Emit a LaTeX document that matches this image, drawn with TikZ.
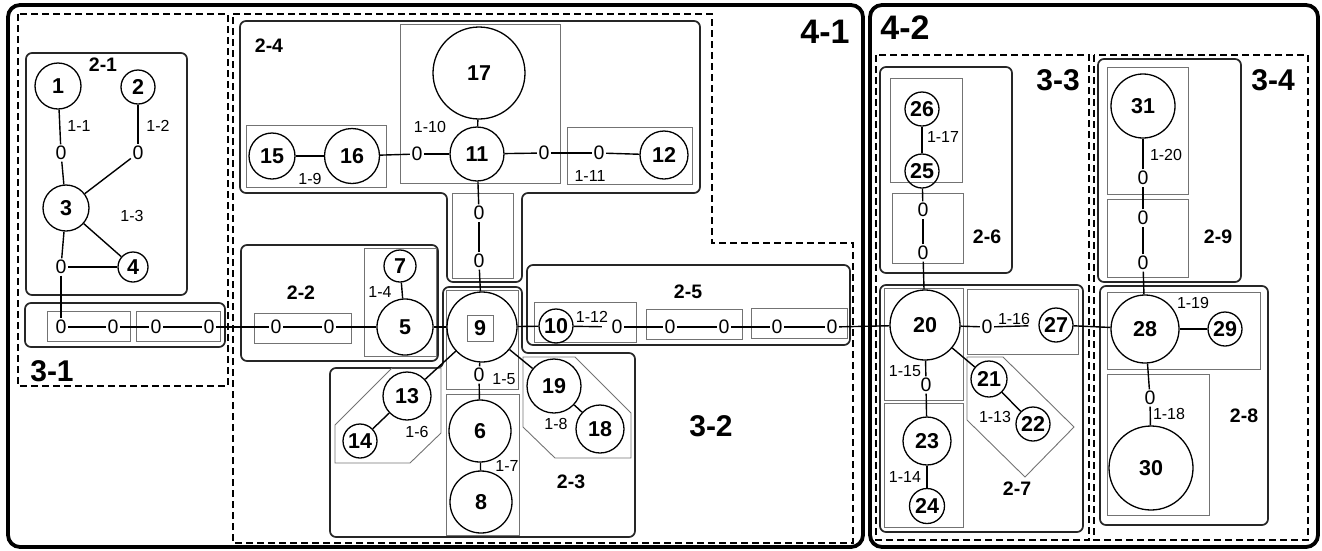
\documentclass[tikz,border=0pt]{standalone}
\usepackage{fontspec}
\setmainfont{Liberation Sans}
\usetikzlibrary{positioning}
\newcommand{\numfont}{\fontsize{21.5}{24}\selectfont\bfseries}
\newcommand{\zerofont}{\fontsize{19.5}{22}\selectfont}
\newcommand{\edgefont}{\fontsize{16}{18}\selectfont}
\newcommand{\grpfont}{\fontsize{19.5}{22}\selectfont\bfseries}
\newcommand{\lvlfont}{\fontsize{30}{34}\selectfont\bfseries}
\newcommand{\partfont}{\fontsize{34}{38}\selectfont\bfseries}
\begin{document}
\begin{tikzpicture}[x=1pt,y=-1pt,
    vtx/.style={circle,draw,line width=1.3pt,inner sep=0pt,minimum size=#1,font=\numfont},
    zero/.style={inner sep=1.5pt,font=\zerofont},
    lbl/.style={inner sep=0pt,font=\edgefont},
    grp/.style={inner sep=0pt,font=\grpfont},
    lvl/.style={inner sep=0pt,font=\lvlfont},
    prt/.style={inner sep=0pt,font=\partfont},
    cell/.style={draw=black!55,line width=0.9pt},
    group/.style={draw=black!85,line width=1.7pt,rounded corners=6pt},
    level/.style={draw,line width=1.4pt,dash pattern=on 7pt off 4pt},
    part/.style={draw,line width=3.8pt,rounded corners=12pt},
    link/.style={line width=1.4pt}]
    \useasboundingbox (0,0) rectangle (1322,550);
    % parts and levels
    \draw[part] (8,5) rectangle (863,547);
    \draw[part] (870,5) rectangle (1318,547);
    \draw[level] (18,14) rectangle (228,386);
    \draw[level] (233,14) -- (712,14) -- (712,243) -- (853,243) -- (853,543) -- (233,543) -- cycle;
    \draw[level] (876,55) rectangle (1089,540);
    \draw[level] (1094,55) rectangle (1308,540);
    % groups
    \draw[group] (26,53) rectangle (187,295);
    \draw[group] (25,303) rectangle (225,347);
    \draw[group] (240,21) -- (700,21) -- (700,193) -- (522,193) -- (522,282) -- (447,282) -- (447,193) -- (240,193) -- cycle;
    \draw[group] (241,245) rectangle (438,361);
    \draw[group] (330,368) -- (443,368) -- (443,287) -- (522,287) -- (522,353) -- (635,353) -- (635,537) -- (330,537) -- cycle;
    \draw[group] (527,265) rectangle (850,345);
    \draw[group] (880,67) rectangle (1012,273);
    \draw[group] (880,285) rectangle (1083,532);
    \draw[group] (1100,286) rectangle (1268,525);
    \draw[group] (1098,59) rectangle (1241,282);
    % cells
    \draw[cell] (47,311) rectangle (130,341);
    \draw[cell] (136,311) rectangle (220,341);
    \draw[cell] (254,313) rectangle (351,343);
    \draw[cell] (364,248) rectangle (436,356);
    \draw[cell] (246,125) rectangle (386,187);
    \draw[cell] (400,24) rectangle (560,183);
    \draw[cell] (567,127) rectangle (692,184);
    \draw[cell] (452,193) rectangle (513,278);
    \draw[cell] (446,290) rectangle (518,389);
    \draw[cell] (446,394) rectangle (519,535);
    \draw[cell] (335,425) -- (392,368) -- (441,368) -- (441,433) -- (410,463) -- (335,463) -- cycle;
    \draw[cell] (523,357) -- (575,357) -- (631,413) -- (631,458) -- (555,458) -- (523,427) -- cycle;
    \draw[cell] (534,302) rectangle (636,342);
    \draw[cell] (646,309) rectangle (742,339);
    \draw[cell] (751,308) rectangle (847,338);
    \draw[cell] (890,78) rectangle (962,182);
    \draw[cell] (892,193) rectangle (963,263);
    \draw[cell] (884,288) rectangle (963,400);
    \draw[cell] (884,403) rectangle (963,527);
    \draw[cell] (967,289) rectangle (1078,354);
    \draw[cell] (967,357) -- (1003,357) -- (1074,427) -- (1025,477) -- (967,420) -- cycle;
    \draw[cell] (1107,292) rectangle (1260,369);
    \draw[cell] (1107,374) rectangle (1209,515);
    \draw[cell] (1107,67) rectangle (1188,194);
    \draw[cell] (1107,199) rectangle (1188,277);
    % vertices
    \node[vtx=46pt] (n1) at (58,86) {1};
    \node[vtx=34pt] (n2) at (138,87) {2};
    \node[vtx=46pt] (n3) at (66,208) {3};
    \node[vtx=30pt] (n4) at (133,267) {4};
    \node[vtx=56pt] (n5) at (405,327) {5};
    \node[vtx=32pt] (n7) at (400,266) {7};
    \node[vtx=70pt] (n9) at (482,327) {};
    \node[cell,minimum size=26pt,inner sep=0pt,font=\numfont] (n9in) at (480,328) {9};
    \node[vtx=62pt] (n6) at (480,431) {6};
    \node[vtx=62pt] (n8) at (481,502) {8};
    \node[vtx=34pt] (n10) at (556,326) {10};
    \node[vtx=54pt] (n11) at (477,154) {11};
    \node[vtx=48pt] (n12) at (664,155) {12};
    \node[vtx=48pt] (n13) at (407,396) {13};
    \node[vtx=34pt] (n14) at (360,441) {14};
    \node[vtx=46pt] (n15) at (272,156) {15};
    \node[vtx=55pt] (n16) at (352,156) {16};
    \node[vtx=92pt] (n17) at (479,73) {17};
    \node[vtx=48pt] (n18) at (600,429) {18};
    \node[vtx=54pt] (n19) at (554,386) {19};
    \node[vtx=70pt] (n20) at (925,325) {20};
    \node[vtx=36pt] (n21) at (989,379) {21};
    \node[vtx=34pt] (n22) at (1033,424) {22};
    \node[vtx=48pt] (n23) at (927,441) {23};
    \node[vtx=35pt] (n24) at (927,506) {24};
    \node[vtx=34pt] (n25) at (922,171) {25};
    \node[vtx=34pt] (n26) at (922,109) {26};
    \node[vtx=34pt] (n27) at (1056,325) {27};
    \node[vtx=68pt] (n28) at (1145,329) {28};
    \node[vtx=34pt] (n29) at (1225,329) {29};
    \node[vtx=84pt] (n30) at (1151,468) {30};
    \node[vtx=64pt] (n31) at (1143,106) {31};
    % zeros
    \node[zero] (za) at (61,153) {0};
    \node[zero] (zb) at (138,153) {0};
    \node[zero] (zc) at (61,267) {0};
    \node[zero] (zd) at (61,327) {0};
    \node[zero] (ze) at (113,327) {0};
    \node[zero] (zf) at (156,327) {0};
    \node[zero] (zg) at (209,327) {0};
    \node[zero] (zh) at (276,327) {0};
    \node[zero] (zi) at (329,327) {0};
    \node[zero] (zj) at (417,154) {0};
    \node[zero] (zk) at (544,153) {0};
    \node[zero] (zl) at (599,153) {0};
    \node[zero] (zm) at (479,213) {0};
    \node[zero] (zn) at (479,261) {0};
    \node[zero] (zo) at (479,375) {0};
    \node[zero] (zp) at (617,327) {0};
    \node[zero] (zq) at (670,327) {0};
    \node[zero] (zr) at (724,327) {0};
    \node[zero] (zs) at (777,327) {0};
    \node[zero] (zt) at (832,327) {0};
    \node[zero] (zu) at (987,327) {0};
    \node[zero] (zv) at (923,210) {0};
    \node[zero] (zw) at (923,253) {0};
    \node[zero] (zx) at (926,385) {0};
    \node[zero] (zy) at (1150,398) {0};
    \node[zero] (zz1) at (1143,178) {0};
    \node[zero] (zz2) at (1143,218) {0};
    \node[zero] (zz3) at (1143,263) {0};
    % links
    \path[link]
        (n1) edge (za) (za) edge (n3)
        (n2) edge (zb) (zb) edge (n3)
        (n3) edge (n4) (n3) edge (zc) (zc) edge (n4)
        (zc) edge (zd) (zd) edge (ze) (ze) edge (zf) (zf) edge (zg)
        (zg) edge (zh) (zh) edge (zi) (zi) edge (n5)
        (n7) edge (n5) (n5) edge (n9)
        (n9) edge (zn) (zn) edge (zm) (zm) edge (n11) (n11) edge (n17)
        (n15) edge (n16) (n16) edge (zj) (zj) edge (n11)
        (n11) edge (zk) (zk) edge (zl) (zl) edge (n12)
        (n9) edge (n10) (n10) edge[shorten >=8pt] (zp)
        (zp) edge (zq) (zq) edge (zr) (zr) edge (zs) (zs) edge (zt) (zt) edge (n20)
        (n9) edge (zo) (zo) edge (n6) (n6) edge (n8)
        (n9) edge (n13) (n13) edge (n14)
        (n9) edge (n19) (n19) edge (n18)
        (n20) edge (zw) (zw) edge (zv) (zv) edge (n25) (n25) edge (n26)
        (n20) edge (zu) (zu) edge[shorten >=10pt] (n27) (n27) edge (n28)
        (n20) edge (n21) (n21) edge (n22)
        (n20) edge (zx) (zx) edge (n23) (n23) edge (n24)
        (n28) edge (n29) (n28) edge (zy) (zy) edge (n30)
        (n28) edge (zz3) (zz3) edge (zz2) (zz2) edge (zz1) (zz1) edge (n31);
    % link labels
    \node[lbl] (l1) at (79,126) {1-1};
    \node[lbl] (l2) at (158,126) {1-2};
    \node[lbl] (l3) at (132,216) {1-3};
    \node[lbl] (l4) at (380,292) {1-4};
    \node[lbl] (l5) at (504,379) {1-5};
    \node[lbl] (l6) at (417,432) {1-6};
    \node[lbl] (l7) at (507,466) {1-7};
    \node[lbl] (l8) at (556,424) {1-8};
    \node[lbl] (l9) at (310,179) {1-9};
    \node[lbl] (l10) at (430,127) {1-10};
    \node[lbl] (l11) at (590,176) {1-11};
    \node[lbl] (l12) at (592,317) {1-12};
    \node[lbl] (l13) at (995,417) {1-13};
    \node[lbl] (l14) at (905,477) {1-14};
    \node[lbl] (l15) at (905,371) {1-15};
    \node[lbl] (l16) at (1014,319) {1-16};
    \node[lbl] (l17) at (943,137) {1-17};
    \node[lbl] (l18) at (1169,414) {1-18};
    \node[lbl] (l19) at (1193,303) {1-19};
    \node[lbl] (l20) at (1166,155) {1-20};
    % group, level and part labels
    \node[grp] (g1) at (103,65) {2-1};
    \node[grp] (g2) at (301,293) {2-2};
    \node[grp] (g3) at (571,482) {2-3};
    \node[grp] (g4) at (269,46) {2-4};
    \node[grp] (g5) at (688,292) {2-5};
    \node[grp] (g6) at (987,237) {2-6};
    \node[grp] (g7) at (1017,489) {2-7};
    \node[grp] (g8) at (1244,416) {2-8};
    \node[grp] (g9) at (1218,237) {2-9};
    \node[lvl] (v1) at (52,371) {3-1};
    \node[lvl] (v2) at (711,426) {3-2};
    \node[lvl] (v3) at (1058,80) {3-3};
    \node[lvl] (v4) at (1273,80) {3-4};
    \node[prt] (p1) at (825,32) {4-1};
    \node[prt] (p2) at (905,28) {4-2};
\end{tikzpicture}
\end{document}
